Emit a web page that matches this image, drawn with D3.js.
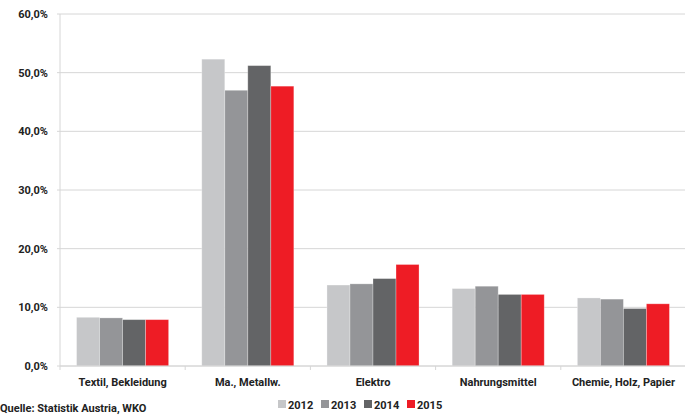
<!DOCTYPE html>
<html>
<head>
<meta charset="utf-8">
<script src="https://cdn.jsdelivr.net/npm/d3@7"></script>
<style>
  body { margin: 0; background: #fff; }
  text { font-family: Roboto, "Liberation Sans", Arial, sans-serif; font-weight: bold; fill: #222; }
</style>
</head>
<body>
<svg id="chart" width="685" height="417"></svg>
<script>
// Branchen und Anteile je Jahr
const categories = ["Textil, Bekleidung", "Ma., Metallw.", "Elektro", "Nahrungsmittel", "Chemie, Holz, Papier"];
const years = ["2012", "2013", "2014", "2015"];
const v2012 = [8.3, 52.3, 13.8, 13.2, 11.6];
const v2013 = [8.2, 47.0, 14.0, 13.6, 11.4];
const v2014 = [7.9, 51.2, 14.9, 12.2, 9.8];
const v2015 = [7.9, 47.7, 17.3, 12.2, 10.6];
const yTicks = [0, 10, 20, 30, 40, 50, 60];
const colors = ["#c6c7c9", "#949598", "#636466", "#ee1c25"];

const series = [v2012, v2013, v2014, v2015];
const svg = d3.select("#chart");
const mLeft = 60, mRight = 686, mTop = 14, mBottom = 366;

// Gruppen-Skala, Tick-Striche liegen an den Gruppengrenzen
const band = (mRight - mLeft) / categories.length;
const xGroup = d3.scaleBand().domain(categories).range([mLeft, mRight]).padding(0);
const xBar = d3.scaleBand().domain(years).range([0, band]).paddingInner(0).paddingOuter(0.72);
const y = d3.scaleLinear().domain([0, 60]).range([mBottom, mTop]);

// Gitterlinien
svg.selectAll(".grid")
  .data(yTicks)
  .enter()
  .append("line")
  .attr("x1", mLeft - 3)
  .attr("x2", mRight)
  .attr("y1", d => y(d))
  .attr("y2", d => y(d))
  .attr("stroke", "#d6d6d6")
  .attr("stroke-width", 1);

// Y-Achse
svg.append("line")
  .attr("x1", mLeft).attr("x2", mLeft)
  .attr("y1", mTop).attr("y2", mBottom)
  .attr("stroke", "#d6d6d6");

svg.selectAll(".ylab")
  .data(yTicks)
  .enter()
  .append("text")
  .attr("x", 48)
  .attr("y", d => y(d) + 4)
  .attr("text-anchor", "end")
  .attr("font-size", 11)
  .text(d => d.toFixed(1).replace(".", ",") + "%");

// Balken
const group = svg.selectAll(".group")
  .data(categories)
  .enter()
  .append("g")
  .attr("transform", d => `translate(${xGroup(d)},0)`);

group.selectAll("rect")
  .data((d, i) => years.map((yr, j) => ({ yr, v: series[j][i], c: colors[j] })))
  .enter()
  .append("rect")
  .attr("x", d => xBar(d.yr))
  .attr("width", xBar.bandwidth())
  .attr("y", d => y(d.v))
  .attr("height", d => mBottom - y(d.v))
  .attr("fill", d => d.c)
  .attr("stroke", "#fff")
  .attr("stroke-opacity", 0.35)
  .attr("stroke-width", 0.8);

// Grundlinie und Tick-Striche
svg.append("line")
  .attr("x1", mLeft).attr("x2", mRight)
  .attr("y1", mBottom).attr("y2", mBottom)
  .attr("stroke", "#d6d6d6");

svg.selectAll(".xtick")
  .data(d3.range(categories.length + 1))
  .enter()
  .append("line")
  .attr("x1", i => mLeft + i * band)
  .attr("x2", i => mLeft + i * band)
  .attr("y1", mBottom)
  .attr("y2", mBottom + 4)
  .attr("stroke", "#d6d6d6");

svg.selectAll(".xlab")
  .data(categories)
  .enter()
  .append("text")
  .attr("x", d => xGroup(d) + band / 2)
  .attr("y", 386)
  .attr("text-anchor", "middle")
  .attr("font-size", 11)
  .text(d => d);

// Quelle
svg.append("text")
  .attr("x", 0)
  .attr("y", 412)
  .attr("font-size", 11)
  .text("Quelle: Statistik Austria, WKO");

// Legende
const legend = svg.selectAll(".legend")
  .data(years)
  .enter()
  .append("g")
  .attr("transform", (d, i) => `translate(${278 + i * 43},400)`);

legend.append("rect")
  .attr("width", 8)
  .attr("height", 8)
  .attr("fill", (d, i) => colors[i]);

legend.append("text")
  .attr("x", 10)
  .attr("y", 8.5)
  .attr("font-size", 11)
  .text(d => d);
</script>
</body>
</html>
